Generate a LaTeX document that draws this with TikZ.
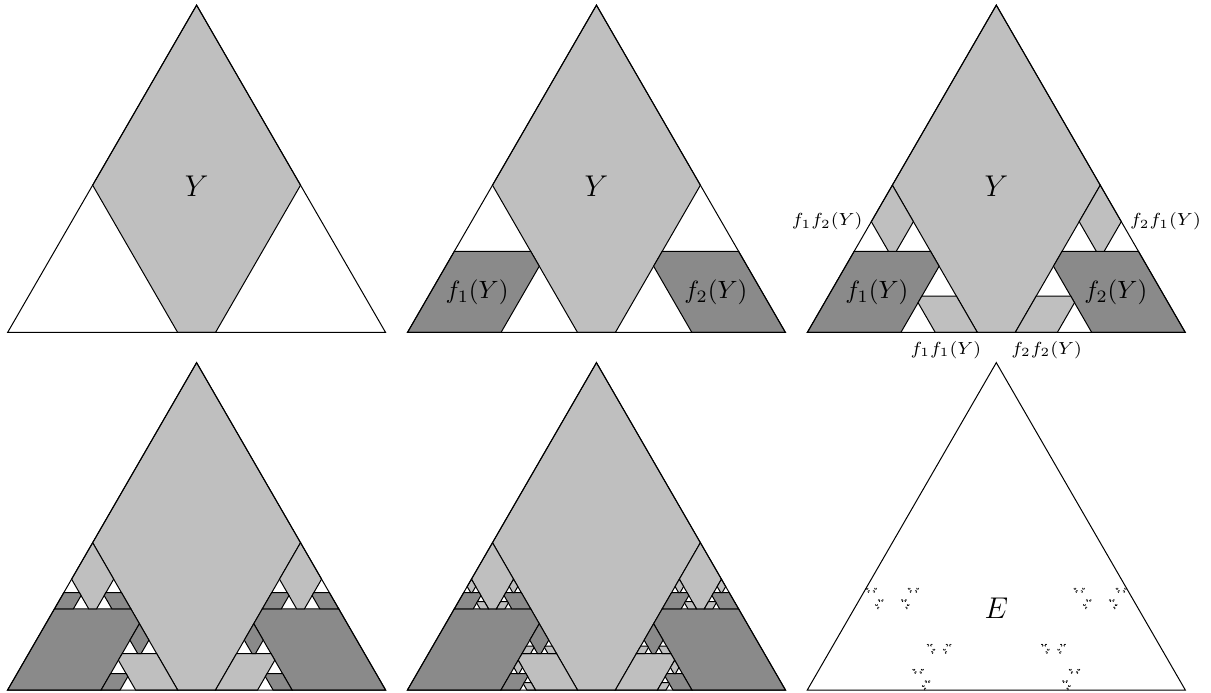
\documentclass[tikz,border=0pt]{standalone}
\usepackage{amsmath}
\usepackage{amssymb}
\usepackage{tikz}
\usetikzlibrary{
    positioning
}
\definecolor{grisclaro}{gray}{0.75}
\definecolor{grisoscuro}{gray}{0.54}
\tikzset{
    pieza/.style={
        draw=black,
        line width=0.4pt,
        line join=miter
    },
    efuno/.style={cm={-0.225,0.389711,-0.389711,-0.225,(0.45,0)}},
    efdos/.style={cm={-0.225,-0.389711,0.389711,-0.225,(0.775,0.389711)}},
    etiq/.style={font=\scriptsize},
    grande/.style={font=\large}
}

% Y: el triangulo sin las dos esquinas de razon 0.45
\newcommand{\piezaY}[1]{%
    \filldraw[pieza, fill=#1]
        (0.5,0.866025) -- (0.225,0.389711) -- (0.45,0)
        -- (0.55,0) -- (0.775,0.389711) -- cycle;%
}

% niveles, color de este nivel, color del siguiente
\newcommand{\capasY}[3]{%
    \ifnum#1>0
        \piezaY{#2}%
        \begin{scope}[efuno]\capasY{\numexpr#1-1\relax}{#3}{#2}\end{scope}%
        \begin{scope}[efdos]\capasY{\numexpr#1-1\relax}{#3}{#2}\end{scope}%
    \fi
}

% atractor E
\newcommand{\polvoE}[1]{%
    \ifnum#1>0
        \begin{scope}[efuno]\polvoE{\numexpr#1-1\relax}\end{scope}%
        \begin{scope}[efdos]\polvoE{\numexpr#1-1\relax}\end{scope}%
    \else
        \filldraw[line width=0.12pt] (0,0) -- (1,0) -- (0.5,0.866025) -- cycle;%
    \fi
}

\newcommand{\triangulo}{%
    \draw[pieza] (0,0) -- (1,0) -- (0.5,0.866025) -- cycle;%
}

\begin{document}
\begin{tikzpicture}[
    x=151.2pt,
    y=151.2pt
]
    \useasboundingbox (0,0) rectangle (3.2037,1.8307);

    % Fila de arriba
    \begin{scope}[shift={(0.0201,0.9511)}]
        \capasY{1}{grisclaro}{grisoscuro}
        \triangulo
        \node[grande] (y1) at (0.5,0.386) {$Y$};
    \end{scope}

    \begin{scope}[shift={(1.0779,0.9511)}]
        \capasY{2}{grisclaro}{grisoscuro}
        \triangulo
        \node[grande] (y2) at (0.5,0.386) {$Y$};
        \node (f1) at (0.184,0.106) {$f_1(Y)$};
        \node (f2) at (0.816,0.106) {$f_2(Y)$};
    \end{scope}

    \begin{scope}[shift={(2.1357,0.9511)}]
        \capasY{3}{grisclaro}{grisoscuro}
        \triangulo
        \node[grande] (y3) at (0.5,0.386) {$Y$};
        \node (g1) at (0.184,0.106) {$f_1(Y)$};
        \node (g2) at (0.816,0.106) {$f_2(Y)$};
        \node[etiq, left]  (f12) at (0.1693,0.2933) {$f_1f_2(Y)$};
        \node[etiq, right] (f21) at (0.8307,0.2933) {$f_2f_1(Y)$};
        \node[etiq, below] (f11) at (0.3667,0) {$f_1f_1(Y)$};
        \node[etiq, below] (f22) at (0.6333,0) {$f_2f_2(Y)$};
    \end{scope}

    % Fila de abajo
    \begin{scope}[shift={(0.0201,0.0053)}]
        \capasY{4}{grisclaro}{grisoscuro}
        \triangulo
    \end{scope}

    \begin{scope}[shift={(1.0779,0.0053)}]
        \capasY{5}{grisclaro}{grisoscuro}
        \triangulo
    \end{scope}

    \begin{scope}[shift={(2.1357,0.0053)}]
        \polvoE{8}
        \triangulo
        \node[grande] (e) at (0.5,0.216) {$E$};
    \end{scope}

\end{tikzpicture}
\end{document}
